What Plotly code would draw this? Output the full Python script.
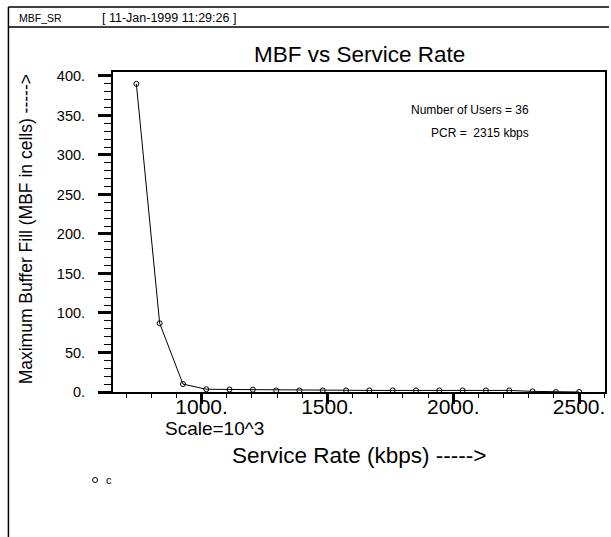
import plotly.graph_objects as go

# Data
service_rate = [740.8, 833.4, 926.0, 1018.6, 1111.2, 1203.8, 1296.4, 1389.0, 1481.6, 1574.2,
                1666.8, 1759.4, 1852.0, 1944.6, 2037.2, 2129.8, 2222.4, 2315.0, 2407.6, 2500.2]
mbf = [390.0, 87.0, 10.0, 3.5, 3.2, 3.0, 2.0, 2.0, 2.0, 2.0,
       2.0, 2.0, 2.0, 2.0, 2.0, 2.0, 2.0, 0.8, 0.0, 0.0]

W, H = 611, 537
L, R, T, B = 113, 607, 72, 392

FONT = "Liberation Sans, Arial, Helvetica, sans-serif"

fig = go.Figure()
fig.add_trace(go.Scatter(
    x=service_rate, y=mbf, mode="lines+markers",
    line=dict(color="black", width=1),
    marker=dict(symbol="circle-open", size=5, color="black", line=dict(width=1, color="black")),
    showlegend=False, hoverinfo="skip"))

def px(x):
    return (x - L) / (R - L)

def py(y):
    return (B - y) / (B - T)

anns = [
    dict(text="MBF_SR", x=px(17), y=py(18), xanchor="left", font=dict(size=10.5)),
    dict(text="[ 11-Jan-1999 11:29:26 ]", x=px(100), y=py(18), xanchor="left", font=dict(size=12.5)),
    dict(text="MBF vs Service Rate", x=px(360), y=py(54), xanchor="center", font=dict(size=22.5)),
    dict(text="Number of Users = 36", x=px(533), y=py(110), xanchor="right", font=dict(size=12)),
    dict(text="PCR =  2315 kbps", x=px(533), y=py(133), xanchor="right", font=dict(size=12)),
    dict(text="Scale=10^3", x=px(163), y=py(428), xanchor="left", font=dict(size=19)),
    dict(text="Service Rate (kbps) ----->", x=px(360), y=py(455), xanchor="center", font=dict(size=22.5)),
    dict(text="Maximum Buffer Fill (MBF in cells) ----->", x=px(26), y=py(229), xanchor="center",
         textangle=-90, font=dict(size=17.5)),
    dict(text="c", x=px(104), y=py(480), xanchor="left", font=dict(size=11)),
]
for a in anns:
    a.update(xref="paper", yref="paper", showarrow=False, yanchor="middle")
    a["font"].update(color="black", family=FONT)
    fig.add_annotation(**a)

line = dict(color="black", width=1.5)
shapes = [
    dict(type="line", x0=px(8), x1=px(611), y0=py(7), y1=py(7), line=line),
    dict(type="line", x0=px(8), x1=px(611), y0=py(27), y1=py(27), line=line),
    dict(type="line", x0=px(8), x1=px(8), y0=py(7), y1=py(537), line=line),
    dict(type="circle", x0=px(92.5), x1=px(97.5), y0=py(477.5), y1=py(482.5),
         line=dict(color="black", width=1)),
]
for s in shapes:
    s.update(xref="paper", yref="paper", layer="above")
    fig.add_shape(**s)

fig.update_layout(
    width=W, height=H,
    margin=dict(l=L, r=W - R, t=T, b=H - B, pad=0),
    paper_bgcolor="white", plot_bgcolor="white",
    font=dict(family=FONT, color="black"),
    xaxis=dict(
        range=[648, 2603], showgrid=False, zeroline=False,
        showline=True, linecolor="black", linewidth=2, mirror=True,
        tickmode="linear", tick0=1000, dtick=500, ticksuffix=".",
        ticks="outside", ticklen=10, tickwidth=3, tickcolor="black",
        tickfont=dict(size=21), ticklabelstandoff=-15,
        minor=dict(tickmode="linear", tick0=0, dtick=100, ticks="outside",
                   ticklen=4, tickwidth=1, tickcolor="black", showgrid=False),
    ),
    yaxis=dict(
        range=[0, 405], showgrid=False, zeroline=False,
        showline=True, linecolor="black", linewidth=2, mirror=True,
        tickmode="linear", tick0=0, dtick=50, ticksuffix=".",
        ticks="outside", ticklen=13, tickwidth=3, tickcolor="black",
        tickfont=dict(size=14.5), ticklabelstandoff=10,
        minor=dict(tickmode="linear", tick0=0, dtick=10, ticks="outside",
                   ticklen=7, tickwidth=1, tickcolor="black", showgrid=False),
    ),
)

fig.write_html("out.html", config={"displayModeBar": False},
               post_script="document.body.style.margin='0px';")
